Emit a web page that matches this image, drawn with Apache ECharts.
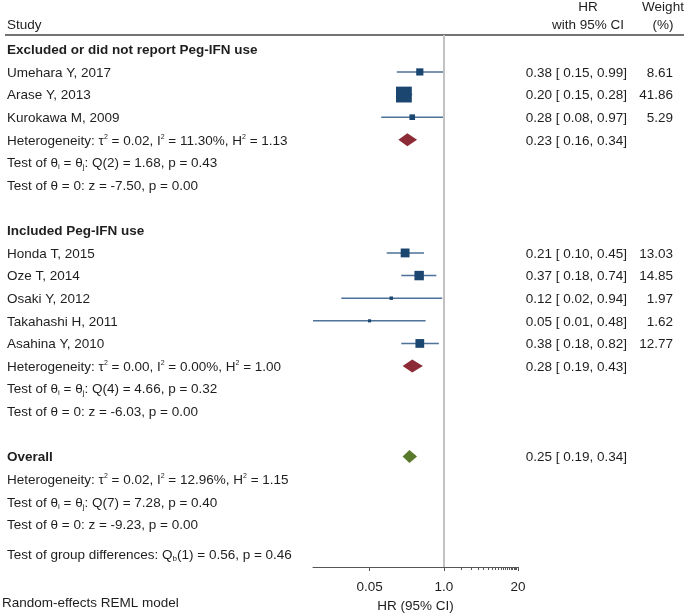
<!DOCTYPE html>
<html><head><meta charset="utf-8">
<script src="https://cdn.jsdelivr.net/npm/echarts@6/dist/echarts.min.js"></script>
<style>html,body{margin:0;padding:0;background:#fff}#c{width:685px;height:614px}</style>
</head><body><div id="c"></div>
<script>
// ---------- data ----------
const groupNames = ['Excluded or did not report Peg-IFN use', 'Included Peg-IFN use'];
const studies = ['Umehara Y, 2017', 'Arase Y, 2013', 'Kurokawa M, 2009',
  'Honda T, 2015', 'Oze T, 2014', 'Osaki Y, 2012', 'Takahashi H, 2011', 'Asahina Y, 2010'];
const studyGroup = [0, 0, 0, 1, 1, 1, 1, 1];
const hr     = [0.38, 0.20, 0.28, 0.21, 0.37, 0.12, 0.05, 0.38];
const lo     = [0.15, 0.15, 0.08, 0.10, 0.18, 0.016, 0.0051, 0.18];
const hi     = [0.99, 0.28, 0.97, 0.45, 0.74, 0.94, 0.48, 0.82];
const weight = [8.61, 41.86, 5.29, 13.03, 14.85, 1.97, 1.62, 12.77];
// subgroup summaries (group 0, group 1) and overall
const sumHR = [0.23, 0.28], sumLo = [0.16, 0.19], sumHi = [0.34, 0.43];
const overallHR = 0.25, overallLo = 0.19, overallHi = 0.34;
// heterogeneity statistics: [group 0, group 1, overall]
const tau2 = ['0.02', '0.00', '0.02'];
const i2   = ['11.30', '0.00', '12.96'];
const h2   = ['1.13', '1.00', '1.15'];
const qDf  = [2, 4, 7];
const qVal = ['1.68', '4.66', '7.28'];
const qP   = ['0.43', '0.32', '0.40'];
const zVal = ['-7.50', '-6.03', '-9.23'];
const zP   = ['0.00', '0.00', '0.00'];
const qbDf = 1, qbVal = '0.56', qbP = '0.46';
// axis ticks
const tickValues = [0.05, 1, 20];
const tickLabels = ['0.05', '1.0', '20'];
const minorTickValues = [2, 3, 4, 5, 6, 7, 8, 9, 10, 11, 12, 13, 14, 15, 16, 17, 18, 19, 20];
const axisMaxValue = 20;

// ---------- layout ----------
const FONT = '"Liberation Sans", Arial, sans-serif';
const FS = 13.5;
const TXT = '#1e1e1e';
const fmt = v => v.toFixed(2);
const ln = Math.log;

const rows = [];
let r = 0;
groupNames.forEach((g, gi) => {
  rows.push({ row: r++, kind: 'head', text: g });
  studies.forEach((s, i) => { if (studyGroup[i] === gi) rows.push({ row: r++, kind: 'study', i }); });
  rows.push({ row: r++, kind: 'het', gi, sum: { hr: sumHR[gi], lo: sumLo[gi], hi: sumHi[gi], color: '#8c2b36' } });
  rows.push({ row: r++, kind: 'q', gi });
  rows.push({ row: r++, kind: 'z', gi });
  r++;
});
rows.push({ row: r++, kind: 'head', text: 'Overall', sum: { hr: overallHR, lo: overallLo, hi: overallHi, color: '#5a7a2b' } });
rows.push({ row: r++, kind: 'het', gi: 2 });
rows.push({ row: r++, kind: 'q', gi: 2 });
rows.push({ row: r++, kind: 'z', gi: 2 });
rows.push({ row: r - 1 + 1.3, kind: 'qb' });

function leftText(row) {
  const k = row.gi;
  switch (row.kind) {
    case 'head': return row.text;
    case 'study': return studies[row.i];
    case 'het': return 'Heterogeneity: τ{sup|2} = ' + tau2[k] + ', I{sup|2} = ' + i2[k] + '%, H{sup|2} = ' + h2[k];
    case 'q': return 'Test of θ{sub|i} = θ{sub|j}: Q(' + qDf[k] + ') = ' + qVal[k] + ', p = ' + qP[k];
    case 'z': return 'Test of θ = 0: z = ' + zVal[k] + ', p = ' + zP[k];
    case 'qb': return 'Test of group differences: Q{sub|b}(' + qbDf + ') = ' + qbVal + ', p = ' + qbP;
  }
}
const rich = {
  sup: { fontSize: 7, verticalAlign: 'top', lineHeight: 9, fontFamily: FONT, fill: TXT, color: TXT },
  sub: { fontSize: 8, verticalAlign: 'bottom', lineHeight: 9, fontFamily: FONT, fill: TXT, color: TXT }
};

const xMin = ln(Math.min(...lo));
const xMax = ln(axisMaxValue);

const chart = echarts.init(document.getElementById('c'), null, { renderer: 'canvas' });

const studyIdx = rows.filter(o => o.kind === 'study');
const sumRows = rows.filter(o => o.sum);
const tStyle = (text, align) => ({ text, fontSize: FS, fontFamily: FONT, fill: TXT, align, verticalAlign: 'middle' });

chart.setOption({
  animation: false,
  backgroundColor: '#fff',
  grid: { left: 313, right: 167, top: 35, bottom: 47, containLabel: false, outerBoundsMode: 'none' },
  xAxis: [{
    type: 'value', min: xMin, max: xMax, position: 'bottom',
    axisLine: { show: true, onZero: false, lineStyle: { color: '#555', width: 1 } },
    axisTick: { show: true, length: 4, lineStyle: { color: '#555' }, customValues: tickValues.map(ln) },
    axisLabel: {
      show: true, customValues: tickValues.map(ln), margin: 13,
      fontSize: FS, fontFamily: FONT, color: TXT,
      formatter: v => { const i = tickValues.findIndex(t => Math.abs(ln(t) - v) < 1e-6); return i >= 0 ? tickLabels[i] : ''; }
    },
    splitLine: { show: false },
    name: 'HR (95% CI)', nameLocation: 'middle', nameGap: 32,
    nameTextStyle: { fontSize: FS, fontFamily: FONT, color: TXT }
  }, {
    type: 'value', min: xMin, max: xMax, position: 'bottom',
    axisLine: { show: false, onZero: false },
    axisTick: { show: true, length: 3, lineStyle: { color: '#555' }, customValues: minorTickValues.map(ln) },
    axisLabel: { show: false }, splitLine: { show: false }
  }],
  yAxis: { type: 'value', inverse: true, min: -0.632, max: 22.88, show: false },
  graphic: [
    { type: 'line', shape: { x1: 5, y1: 35, x2: 684, y2: 35 }, style: { stroke: '#444', lineWidth: 1.5 } },
    { type: 'text', x: 7, y: 25, style: tStyle('Study', 'left') },
    { type: 'text', x: 588, y: 7, style: tStyle('HR', 'center') },
    { type: 'text', x: 588, y: 25, style: tStyle('with 95% CI', 'center') },
    { type: 'text', x: 663, y: 7, style: tStyle('Weight', 'center') },
    { type: 'text', x: 663, y: 25, style: tStyle('(%)', 'center') },
    { type: 'text', x: 2, y: 603, style: tStyle('Random-effects REML model', 'left') }
  ],
  series: [
    { // reference line at HR = 1
      type: 'line', data: [], silent: true,
      markLine: { symbol: 'none', silent: true, label: { show: false },
        lineStyle: { color: '#c2c2c2', width: 2, type: 'solid' }, data: [{ xAxis: ln(1) }] }
    },
    { // confidence interval whiskers
      type: 'custom', clip: false, silent: true,
      data: studyIdx.map(o => [ln(lo[o.i]), ln(hi[o.i]), o.row]),
      encode: { x: [0, 1], y: 2 },
      renderItem: (p, api) => {
        const a = api.coord([api.value(0), api.value(2)]);
        const b = api.coord([api.value(1), api.value(2)]);
        return { type: 'line', shape: { x1: a[0], y1: a[1], x2: b[0], y2: b[1] },
          style: { stroke: '#4e7299', lineWidth: 1.6 } };
      }
    },
    { // study squares
      type: 'scatter', symbol: 'rect', silent: true,
      data: studyIdx.map(o => [ln(hr[o.i]), o.row, weight[o.i]]),
      symbolSize: v => Math.sqrt(v[2]) * 2.45,
      itemStyle: { color: '#1b4670', opacity: 1 }
    },
    { // summary diamonds
      type: 'custom', clip: false, silent: true,
      data: sumRows.map(o => [ln(o.sum.lo), ln(o.sum.hr), ln(o.sum.hi), o.row]),
      encode: { x: [0, 1, 2], y: 3 },
      renderItem: (p, api) => {
        const y = api.value(3);
        const a = api.coord([api.value(0), y]);
        const m = api.coord([api.value(1), y]);
        const b = api.coord([api.value(2), y]);
        const h = 6.5;
        return { type: 'polygon', shape: { points: [[a[0], a[1]], [m[0], m[1] - h], [b[0], b[1]], [m[0], m[1] + h]] },
          style: { fill: sumRows[p.dataIndex].sum.color } };
      }
    },
    { // text columns
      type: 'custom', clip: false, silent: true,
      data: rows.map(o => [xMin, o.row]),
      encode: { x: 0, y: 1 },
      renderItem: (p, api) => {
        const o = rows[p.dataIndex];
        const y = api.coord([xMin, api.value(1)])[1] + 1;
        const children = [{
          type: 'text', x: 7, y: y,
          style: { text: leftText(o), fontSize: FS, fontFamily: FONT, fill: TXT,
            fontWeight: o.kind === 'head' ? 'bold' : 'normal', align: 'left', verticalAlign: 'middle',
            lineHeight: 15, rich }
        }];
        let ci = null, w = null;
        if (o.kind === 'study') { ci = [hr[o.i], lo[o.i], hi[o.i]]; w = weight[o.i].toFixed(2); }
        if (o.sum) ci = [o.sum.hr, o.sum.lo, o.sum.hi];
        if (ci) children.push({ type: 'text', x: 627, y: y,
          style: tStyle(fmt(ci[0]) + ' [ ' + fmt(ci[1]) + ', ' + fmt(ci[2]) + ']', 'right') });
        if (w) children.push({ type: 'text', x: 673, y: y, style: tStyle(w, 'right') });
        return { type: 'group', children };
      }
    }
  ]
});
</script>
</body></html>
